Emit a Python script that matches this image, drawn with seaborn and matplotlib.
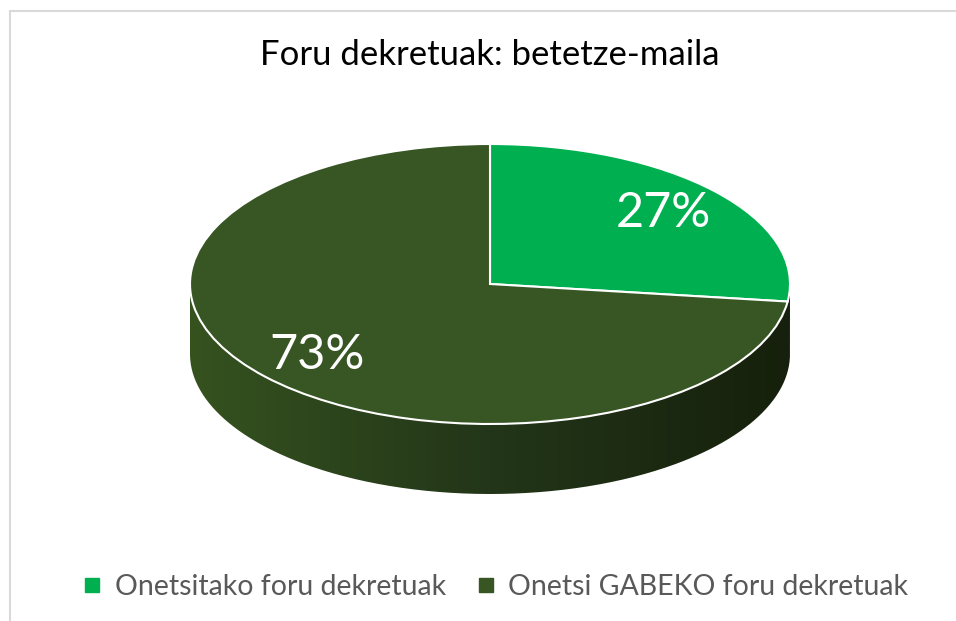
import numpy as np
import matplotlib
matplotlib.use("Agg")
import matplotlib.pyplot as plt
import seaborn as sns
from matplotlib.colors import LinearSegmentedColormap
from matplotlib.path import Path
from matplotlib.patches import PathPatch
from matplotlib.lines import Line2D

# data
labels = ["Onetsitako foru dekretuak", "Onetsi GABEKO foru dekretuak"]
values = [27, 73]
colors = ["#00B050", "#375623"]
title = "Foru dekretuak: betetze-maila"

sns.set_theme(style="white")
plt.rcParams["font.family"] = ["Lato", "DejaVu Sans"]

W, H = 956, 621
fig = plt.figure(figsize=(W / 100, H / 100), dpi=100)

# pie area (pixels) - top ellipse plus the side of the "3d" disc
left, right, top, bottom = 190, 790, 144, 494
depth = 0.5  # side height in units of the vertical radius
ax = fig.add_axes([left / W, 1 - bottom / H, (right - left) / W, (bottom - top) / H])

wedges, texts, autotexts = ax.pie(
    values, colors=colors, startangle=90, counterclock=False,
    autopct="%1.0f%%", pctdistance=0.77,
    wedgeprops=dict(edgecolor="white", linewidth=1.5),
    textprops=dict(color="white", fontsize=35),
)

# side of the disc: band between lower half of top ellipse and the same shifted down
t = np.linspace(np.pi, 2 * np.pi, 300)
upper = np.column_stack([np.cos(t), np.sin(t)])
lower = np.column_stack([np.cos(t[::-1]), np.sin(t[::-1]) - depth])
side = PathPatch(Path(np.vstack([upper, lower])), facecolor="none", edgecolor="none")
ax.add_patch(side)
cmap = LinearSegmentedColormap.from_list("side", ["#35521f", "#233619", "#16200c"])
im = ax.imshow(np.linspace(0, 1, 256)[None, :], cmap=cmap,
               extent=(-1, 1, -1 - depth, 0), aspect="auto", zorder=0)
im.set_clip_path(side)

ax.set_aspect("auto")
ax.set_xlim(-1, 1)
ax.set_ylim(-1 - depth, 1)
ax.axis("off")

fig.text(490 / W, 1 - 55 / H, title, ha="center", va="center", fontsize=25, color="black")

handles = [Line2D([], [], marker="s", linestyle="none", markersize=10, color=c) for c in colors]
fig.legend(handles, labels, loc="center", bbox_to_anchor=(493 / W, 1 - 587 / H), ncol=2,
           frameon=False, fontsize=20.5, labelcolor="#595959",
           handletextpad=0.3, columnspacing=0.9, handlelength=1.0)

# chart area border (only left and top visible in the crop)
fig.add_artist(Line2D([9.5 / W, 9.5 / W], [0, 1 - 10.5 / H], transform=fig.transFigure, color="#d9d9d9", lw=1.5))
fig.add_artist(Line2D([9.5 / W, 1], [1 - 10.5 / H, 1 - 10.5 / H], transform=fig.transFigure, color="#d9d9d9", lw=1.5))

fig.savefig("out.png", dpi=100, facecolor="white")
